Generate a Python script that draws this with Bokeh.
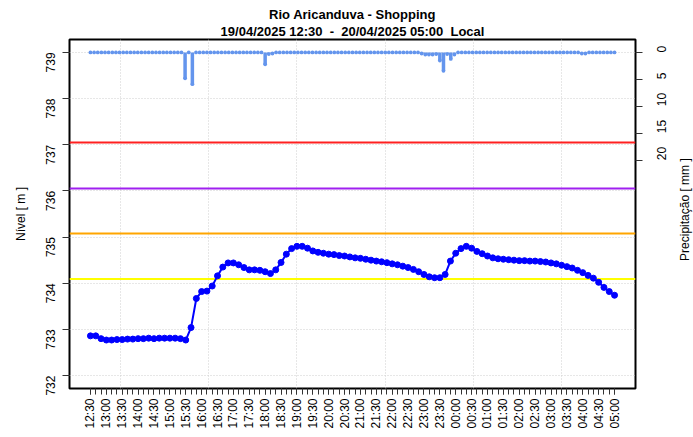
import math
import numpy as np
from bokeh.plotting import figure
from bokeh.layouts import row
from bokeh.core.properties import value
from bokeh.models import Range1d, LinearAxis, FixedTicker, Span, ColumnDataSource, Title
from bokeh.embed import file_html
from bokeh.resources import INLINE

title_line1 = "Rio Aricanduva - Shopping"
title_line2 = "19/04/2025 12:30\u00a0\u00a0-\u00a0\u00a020/04/2025 05:00\u00a0\u00a0Local"
y_label = "Nível [ m ]"
y2_label = "Precipitação [ mm ]"

tick_labels = ["12:30", "13:00", "13:30", "14:00", "14:30", "15:00", "15:30", "16:00",
               "16:30", "17:00", "17:30", "18:00", "18:30", "19:00", "19:30", "20:00",
               "20:30", "21:00", "21:30", "22:00", "22:30", "23:00", "23:30", "00:00",
               "00:30", "01:00", "01:30", "02:00", "02:30", "03:00", "03:30", "04:00",
               "04:30", "05:00"]

# water level (m), one reading every 10 minutes from 12:30
level = [732.86, 732.86, 732.80, 732.77, 732.77, 732.78, 732.78, 732.79, 732.79, 732.80,
         732.80, 732.81, 732.80, 732.81, 732.81, 732.81, 732.81, 732.80, 732.77, 733.04,
         733.67, 733.82, 733.83, 733.94, 734.16, 734.35, 734.44, 734.44, 734.40, 734.34,
         734.29, 734.29, 734.28, 734.25, 734.21, 734.29, 734.45, 734.63, 734.75, 734.80,
         734.80, 734.76, 734.70, 734.67, 734.65, 734.63, 734.62, 734.60, 734.59, 734.57,
         734.55, 734.54, 734.52, 734.50, 734.48, 734.465, 734.445, 734.42, 734.40, 734.37,
         734.34, 734.30, 734.25, 734.19, 734.14, 734.12, 734.12, 734.19, 734.48, 734.65,
         734.75, 734.80, 734.76, 734.69, 734.64, 734.59, 734.55, 734.53, 734.52, 734.51,
         734.50, 734.49, 734.49, 734.48, 734.48, 734.47, 734.46, 734.44, 734.42, 734.39,
         734.36, 734.33, 734.28, 734.23, 734.17, 734.11, 734.02, 733.91, 733.82, 733.74]
level_step_min = 10

# rainfall (mm), readings spread evenly over the same period
rain = [0, 0, 0, 0, 0, 0, 0, 0, 0, 0,
        0, 0, 0, 0, 0, 0, 0, 0, 0, 0,
        0, 0, 0, 0, 0, 0, 4.8, 0, 5.9, 0,
        0, 0, 0, 0, 0, 0, 0, 0, 0, 0,
        0, 0, 0, 0, 0, 0, 0, 0, 2.2, 0.3,
        0.2, 0, 0, 0, 0, 0, 0, 0, 0, 0,
        0, 0, 0, 0, 0, 0, 0, 0, 0, 0,
        0, 0, 0, 0, 0, 0, 0, 0, 0, 0,
        0, 0, 0, 0, 0, 0, 0, 0, 0, 0,
        0, 0.2, 0.4, 0.4, 0.4, 0.3, 1.5, 3.4, 0.3, 1.2,
        0.4, 0, 0, 0, 0, 0, 0, 0, 0, 0,
        0, 0, 0, 0, 0, 0, 0, 0, 0, 0,
        0, 0, 0, 0, 0, 0, 0, 0, 0, 0,
        0, 0, 0, 0, 0, 0.2, 0.2, 0, 0, 0,
        0, 0, 0, 0, 0]

level_ticks = [732, 733, 734, 735, 736, 737, 738, 739]
rain_ticks = [0, 5, 10, 15, 20]
thresholds = [737.05, 736.05, 735.08, 734.09]
threshold_colors = ["#FF2020", "#A020F0", "#FFA500", "#FFFF00"]

start_epoch = 1745076600  # 19/04/2025 12:30 local (UTC-3)

# ---- derived positions (minutes since start)
level_min = [i * level_step_min for i in range(len(level))]
total_min = level_min[-1]
rain_min = list(np.linspace(0, total_min, len(rain)))
major_ticks = [i * 30 for i in range(len(tick_labels))]
minor_ticks = list(range(0, total_min + 1, 10))
pad = 0.04 * total_min
first_grid = (math.ceil(start_epoch / 10000) * 10000 - start_epoch) / 60.0
grid_x = list(np.arange(first_grid, total_min + pad, 10000 / 60.0))

FONT = "Liberation Sans"
W, H = 693, 437
SIDE_W = 15                      # narrow strip holding the right-hand axis title
BL, BR, BT, BB = 69, 43, 39, 49

p = figure(width=W - SIDE_W, height=H, output_backend="svg", toolbar_location=None,
           x_range=Range1d(-pad, total_min + pad),
           y_range=Range1d(731.72, 739.28),
           min_border_left=BL, min_border_right=BR, min_border_top=BT, min_border_bottom=BB)
p.background_fill_color = "white"
p.border_fill_color = "white"
p.outline_line_color = "black"
p.outline_line_width = 2
p.outline_line_alpha = 1.0

# titles: p.title is the outer line, the added Title sits next to the frame
p.title.text = title_line1
t2 = Title(text=title_line2)
p.add_layout(t2, "above")
for t in (p.title, t2):
    t.align = "center"
    t.text_font = FONT
    t.text_font_size = "13px"
    t.text_font_style = "bold"
    t.text_color = "black"
    t.offset = 0
t2.standoff = 1
p.title.standoff = 0

p.extra_y_ranges = {"rain": Range1d(start=62.4, end=-2.4)}

# grids
p.xgrid.ticker = FixedTicker(ticks=grid_x)
p.ygrid.ticker = FixedTicker(ticks=level_ticks)
for g in (p.xgrid[0], p.ygrid[0]):
    g.grid_line_color = "#CFCFCF"
    g.grid_line_dash = "1 2"
    g.grid_line_width = 1

# bottom axis
xa = p.below[0]
xa.ticker = FixedTicker(ticks=major_ticks, minor_ticks=minor_ticks)
xa.major_label_overrides = {t: l for t, l in zip(major_ticks, tick_labels)}
xa.major_label_orientation = math.pi / 2

# left axis
ya = p.left[0]
ya.ticker = FixedTicker(ticks=level_ticks)
ya.axis_label = y_label
ya.major_label_orientation = math.pi / 2

# right axis (ticks + numbers only; its title lives in the side strip)
ra = LinearAxis(y_range_name="rain", ticker=FixedTicker(ticks=rain_ticks))
ra.major_label_orientation = math.pi / 2
p.add_layout(ra, "right")

for ax in (xa, ya, ra):
    ax.axis_line_color = None
    ax.major_tick_in = 0
    ax.minor_tick_in = 0
    ax.major_tick_line_color = "#333333"
    ax.minor_tick_line_color = "#333333"
    ax.major_label_text_font = FONT
    ax.major_label_text_font_size = "12px"
    ax.major_label_text_color = "black"
    ax.axis_label_text_font = FONT
    ax.axis_label_text_font_size = "12px"
    ax.axis_label_text_font_style = "normal"
    ax.axis_label_text_color = "black"

xa.major_tick_out = 6
xa.minor_tick_out = 6
xa.major_label_standoff = 4
ya.major_tick_out = 7
ya.minor_tick_out = 0
ya.major_label_standoff = 12
ya.axis_label_standoff = 11
ra.major_tick_out = 7
ra.minor_tick_out = 0
ra.major_label_standoff = 19

# threshold lines
for v, c in zip(thresholds, threshold_colors):
    p.add_layout(Span(location=v, dimension="width", line_color=c, line_width=2, level="underlay"))

# rain
rsrc = ColumnDataSource(dict(x=rain_min, y=rain, y0=[0] * len(rain)))
p.segment(x0="x", y0="y0", x1="x", y1="y", source=rsrc, y_range_name="rain",
          line_color="#6495ED", line_width=3.5)
p.scatter(x="x", y="y", source=rsrc, y_range_name="rain", size=3.8,
          fill_color="#6495ED", line_color=None)

# level
lsrc = ColumnDataSource(dict(x=level_min, y=level))
p.line(x="x", y="y", source=lsrc, line_color="#0000FF", line_width=2)
p.scatter(x="x", y="y", source=lsrc, size=6, fill_color="#0000FF", line_color="#0000FF")

# side strip with the rotated right-axis title (pixel-unit ranges)
side = figure(width=SIDE_W, height=H, output_backend="svg", toolbar_location=None,
              x_range=Range1d(-6, SIDE_W - 6), y_range=Range1d(-(H - 213), 213),
              min_border=0, x_axis_type=None, y_axis_type=None)
side.outline_line_color = None
side.background_fill_color = "white"
side.border_fill_color = "white"
side.grid.visible = False
side.text(x=[0], y=[0], text=[y2_label], angle=math.pi / 2,
          text_align="center", text_baseline="middle",
          text_font=value(FONT), text_font_size=value("12px"), text_color="black")

layout = row(p, side, spacing=0)
open("out.html", "w").write(file_html(layout, INLINE))
